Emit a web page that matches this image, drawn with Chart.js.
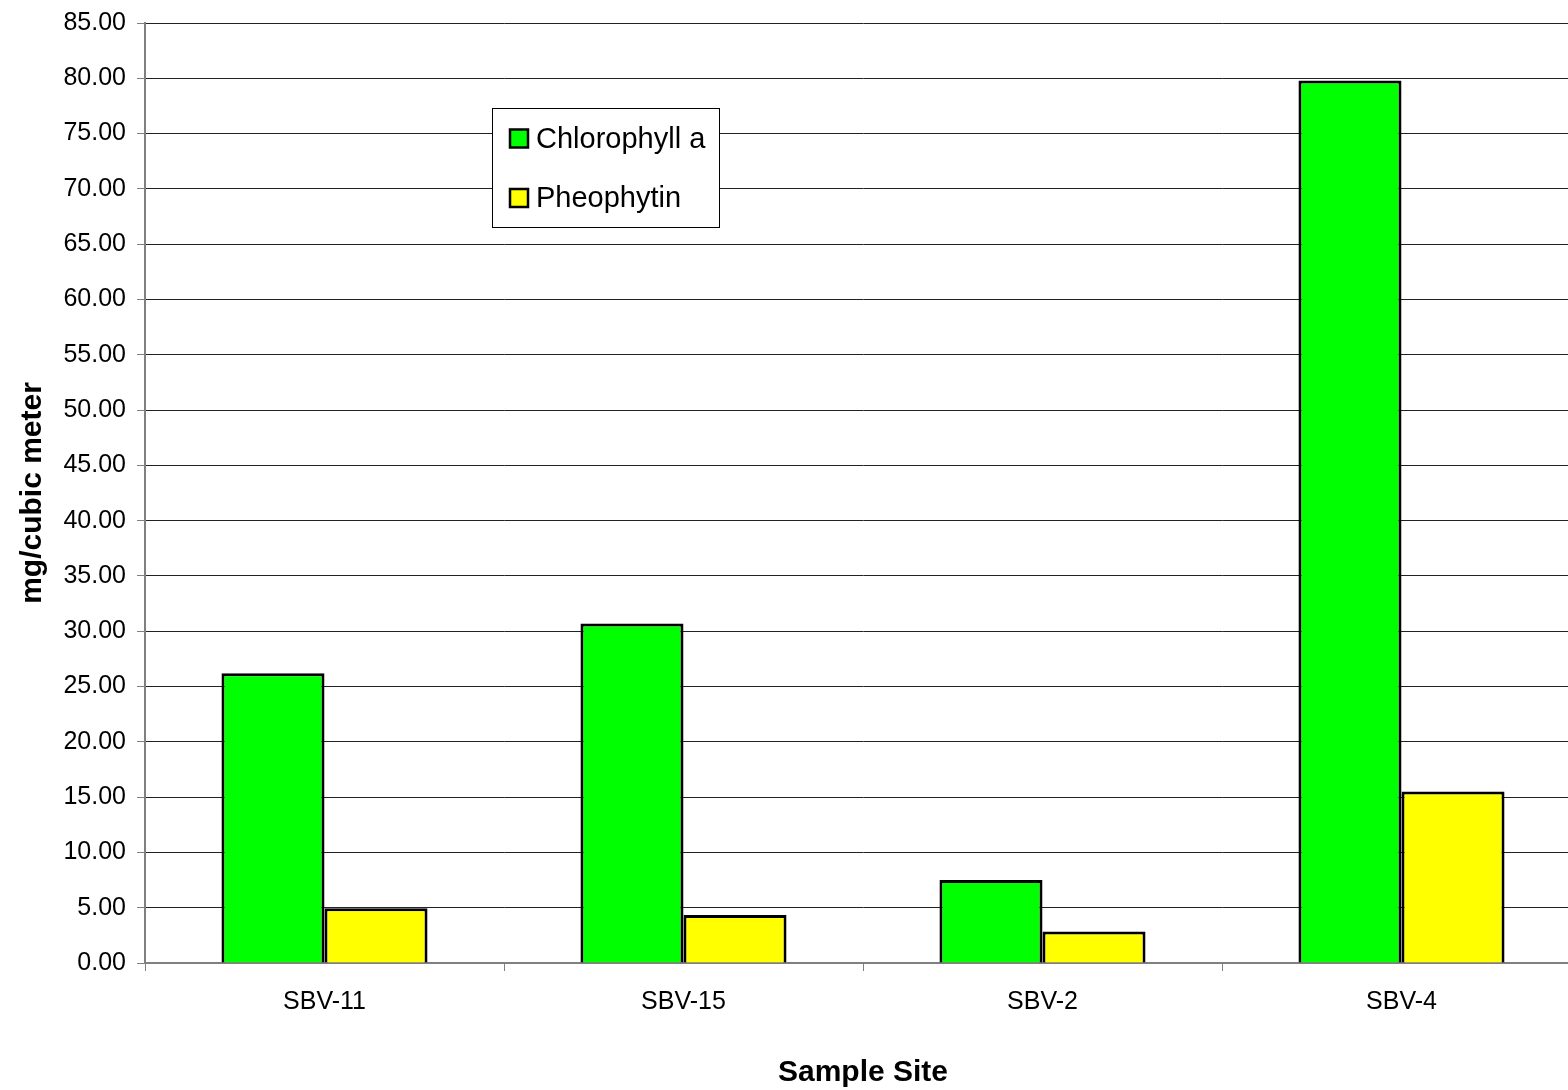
<!DOCTYPE html>
<html>
<head>
<meta charset="utf-8">
<script src="https://cdn.jsdelivr.net/npm/chart.js@4/dist/chart.umd.min.js"></script>
<style>
  html, body { margin: 0; padding: 0; background: #fff; overflow: hidden; }
  #wrap { width: 1590px; height: 1090px; }
</style>
</head>
<body>
<div id="wrap"><canvas id="chart" width="1590" height="1090"></canvas></div>
<script>
// values
var sites = ['SBV-11', 'SBV-15', 'SBV-2', 'SBV-4'];
var chlorophyll = [26.2, 30.7, 7.5, 79.8];
var pheophytin = [4.95, 4.35, 2.85, 15.5];
var seriesNames = ['Chlorophyll a', 'Pheophytin'];
var seriesColors = ['#00ff00', '#ffff00'];

var FONT = "Arial, 'Liberation Sans', sans-serif";
Chart.defaults.font.family = FONT;
Chart.defaults.color = '#000';

// legend box sitting inside the plot, like the original
var boxLegend = {
  id: 'boxLegend',
  afterDraw: function (chart) {
    var ctx = chart.ctx;
    var x = 492, y = 108, w = 228, h = 120;
    ctx.save();
    ctx.fillStyle = '#fff';
    ctx.fillRect(x, y, w, h);
    ctx.strokeStyle = '#000';
    ctx.lineWidth = 1;
    ctx.strokeRect(x + 0.5, y + 0.5, w - 1, h - 1);
    ctx.font = '29px ' + FONT;
    ctx.textBaseline = 'middle';
    chart.data.datasets.forEach(function (ds, i) {
      var cy = 138.5 + i * 59.5;
      ctx.fillStyle = ds.backgroundColor;
      ctx.fillRect(510, cy - 9, 18, 18);
      ctx.strokeStyle = '#000';
      ctx.lineWidth = 2.5;
      ctx.strokeRect(510, cy - 9, 18, 18);
      ctx.fillStyle = '#000';
      ctx.fillText(ds.label, 536, cy + 1);
    });
    ctx.restore();
  }
};

new Chart(document.getElementById('chart'), {
  type: 'bar',
  data: {
    labels: sites,
    datasets: [
      { label: seriesNames[0], data: chlorophyll, backgroundColor: seriesColors[0] },
      { label: seriesNames[1], data: pheophytin, backgroundColor: seriesColors[1] }
    ]
  },
  options: {
    responsive: false,
    animation: false,
    layout: { padding: { top: 23, right: 9, bottom: 0, left: 0 } },
    datasets: {
      bar: {
        borderColor: '#000',
        borderWidth: 3,
        categoryPercentage: 0.574,
        barPercentage: 1.0
      }
    },
    plugins: {
      legend: { display: false },
      tooltip: { enabled: false }
    },
    scales: {
      x: {
        afterFit: function (s) { s.height = 127; s.paddingLeft = 0; s.paddingRight = 0; },
        grid: {
          display: true,
          offset: true,
          drawOnChartArea: false,
          drawTicks: true,
          tickLength: 8,
          color: '#808080'
        },
        border: { color: '#808080', width: 2 },
        ticks: { font: { size: 25 }, padding: 16, color: '#000' },
        title: {
          display: true,
          text: 'Sample Site',
          font: { size: 30, weight: 'bold', lineHeight: 1 },
          color: '#000',
          padding: { top: 4, bottom: 2 }
        }
      },
      y: {
        min: 0,
        max: 85,
        afterFit: function (s) { s.width = 145; s.paddingTop = 0; s.paddingBottom = 0; },
        grid: {
          color: '#222',
          lineWidth: 1,
          tickLength: 8,
          tickColor: '#808080'
        },
        border: { color: '#808080', width: 2 },
        ticks: {
          stepSize: 5,
          padding: 11,
          font: { size: 25 },
          color: '#000',
          callback: function (v) { return Number(v).toFixed(2); }
        },
        title: {
          display: true,
          text: 'mg/cubic meter',
          font: { size: 30, weight: 'bold' },
          color: '#000',
          padding: { top: 15, bottom: 0 }
        }
      }
    }
  },
  plugins: [boxLegend]
});
</script>
</body>
</html>
